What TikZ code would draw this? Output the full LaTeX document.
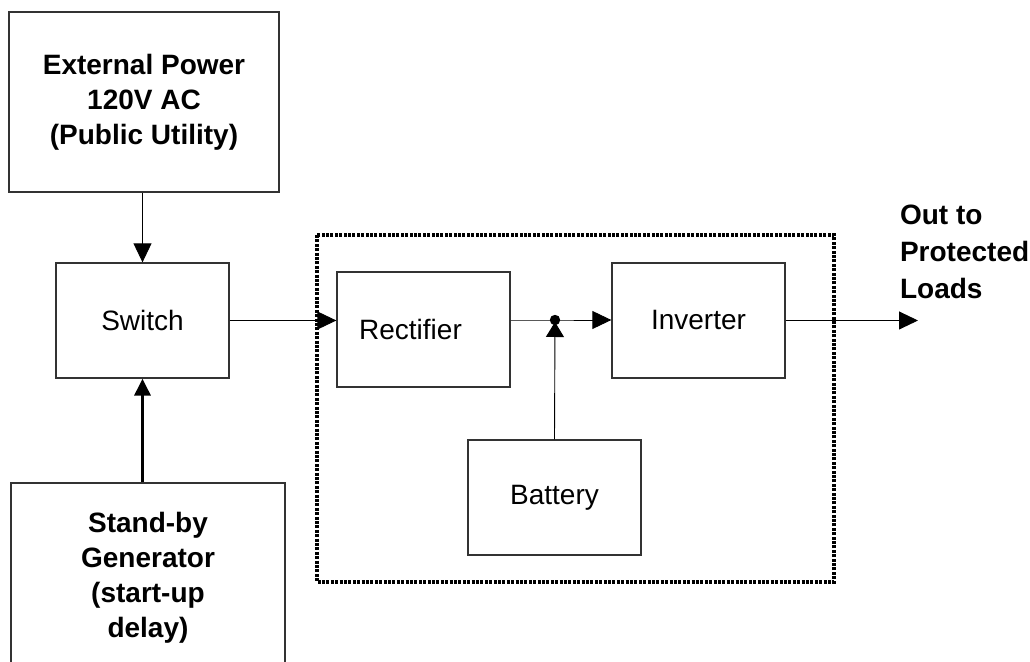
\documentclass[tikz,border=0pt]{standalone}
\usepackage{fontspec}
\setmainfont{Liberation Sans}
\usetikzlibrary{arrows.meta}

\tikzset{
    block/.style={draw=black!80, line width=0.65pt, rectangle, minimum width=86.5pt, minimum height=57.5pt,
        inner sep=0pt, font=\fontsize{14}{17.5}\selectfont},
    bigblock/.style={block, font=\fontsize{14}{17.5}\selectfont\bfseries, align=center},
    wire/.style={draw=black, line width=0.45pt},
    flow/.style={wire, -{Triangle[length=9.5pt,width=9pt]}},
}

\begin{document}
\begin{tikzpicture}[x=0.5pt,y=-0.5pt]
            \useasboundingbox (0,0) rectangle (1030,662);
            \clip (0,0) rectangle (1030,662);
            % sources
            \node[bigblock, minimum width=135pt, minimum height=90pt] (utility) at (144,102)
                {External Power\\120V AC\\(Public Utility)};
            \node[block] (switch) at (142.5,320.5) {Switch};
            \node[bigblock, minimum width=137pt, minimum height=95pt] (generator) at (148,578)
                {Stand-by\\Generator\\(start-up\\delay)};
            % ups enclosure
            \draw[line width=1.7pt, dash pattern=on 1.5pt off 0.7pt] (317,235) rectangle (834,582);
            \node[block, label={[xshift=-6.5pt, font=\fontsize{14}{17.5}\selectfont]center:Rectifier}] (rectifier) at (423.5,329.5) {};
            \node[block] (inverter) at (698.5,320.5) {Inverter};
            \node[block] (battery) at (554.5,497.5) {Battery};
            \coordinate (junction) at (555,320);
            \coordinate (load) at (918,320.5);
            \node[anchor=west, align=left, font=\fontsize{14}{18.5}\selectfont\bfseries] (loadtext) at (893,252)
                {Out to\\Protected\\Loads};
            % connections
            \draw[flow] (utility.south -| switch) -- (switch.north);
            \draw[line width=1.6pt, -{Triangle[length=8.5pt,width=8pt]}] (switch.south |- generator.north) -- (switch.south);
            \draw[flow] (switch.east) -- (switch.east -| rectifier.west);
            \draw[flow] (rectifier.east |- junction) -- (junction) -- (inverter.west |- junction);
            \fill (junction) circle (2.6pt);
            \draw[wire, -{Triangle[length=7.5pt,width=9pt]}] (battery.north) -- ([yshift=-1pt]junction);
            \draw[flow] (inverter.east) -- (load);
        \end{tikzpicture}
\end{document}
